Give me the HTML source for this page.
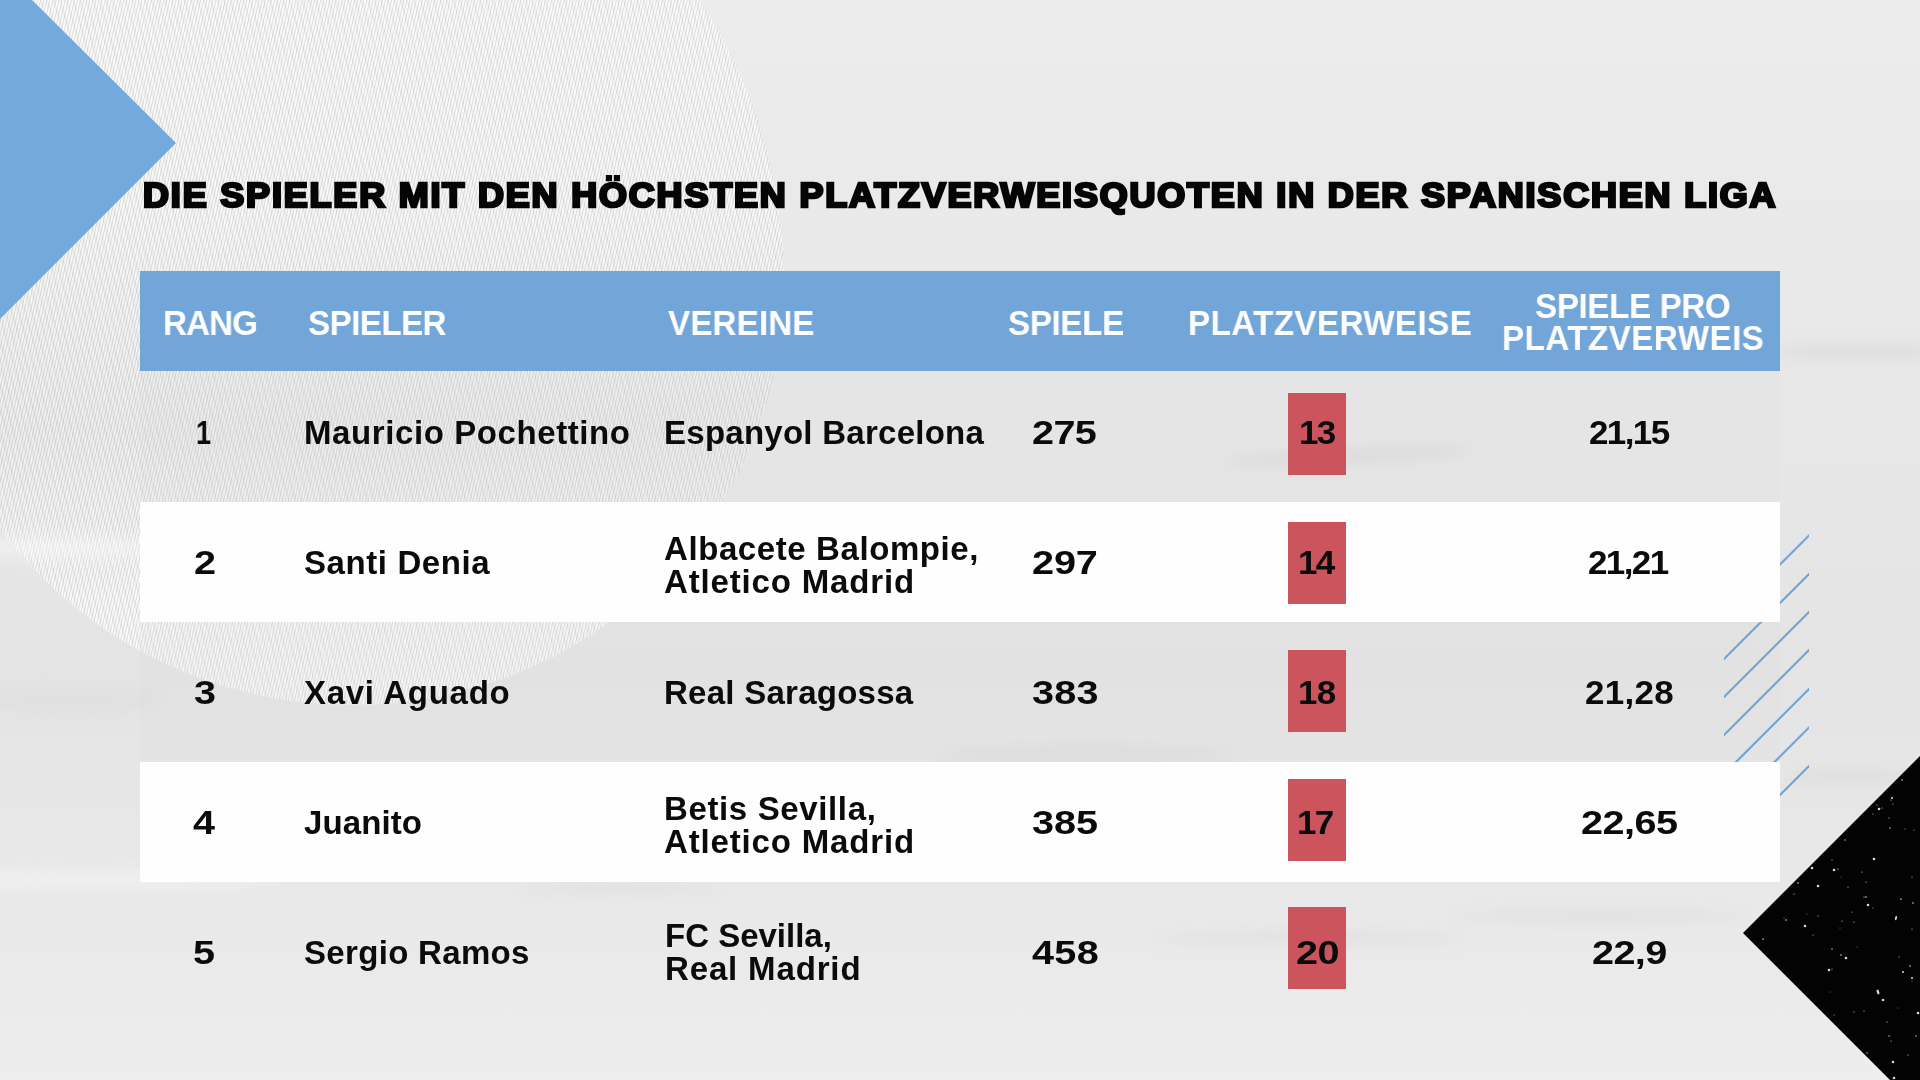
<!DOCTYPE html>
<html lang="de">
<head>
<meta charset="utf-8">
<title>Die Spieler mit den höchsten Platzverweisquoten in der spanischen Liga</title>
<style>
  html, body { margin: 0; padding: 0; }
  body {
    width: 1920px; height: 1080px; overflow: hidden; position: relative;
    background: #e9e9e9;
    font-family: "Liberation Sans", sans-serif;
    color: #0a0a0a;
  }
  #bg { position: absolute; left: 0; top: 0; width: 1920px; height: 1080px; display: block; }

  /* every text label is absolutely placed; transforms keep the left edge fixed */
  .t { position: absolute; white-space: nowrap; transform-origin: 0 50%; will-change: transform; }

  #title {
    height: 44px; line-height: 44px;
    font-size: 34.8px; font-weight: 700; letter-spacing: 1.8px;
    color: #050505;
    -webkit-text-stroke: 2.7px #050505;
    paint-order: stroke fill;
  }

  #thead { position: absolute; left: 140px; top: 271px; width: 1640px; height: 100px; background: #72a6d9; }
  .th { color: #fdfdfd; font-size: 35px; font-weight: 700; line-height: 34px; height: 34px; }

  .rowbg { position: absolute; left: 140px; width: 1640px; height: 120px; background: #fefefe; }
  .card  { position: absolute; left: 1288px; width: 58px; height: 82px; background: #cb545d; }

  .td { font-size: 33px; font-weight: 700; line-height: 33px; height: 33px; color: #0b0b0b; }
</style>
</head>
<body>

<!-- decorative background -->
<svg id="bg" width="1920" height="1080" viewBox="0 0 1920 1080">
  <defs>
    <linearGradient id="paper" x1="0" y1="0" x2="0" y2="1">
      <stop offset="0" stop-color="#ececec"/>
      <stop offset="0.35" stop-color="#e8e8e8"/>
      <stop offset="0.62" stop-color="#e4e4e4"/>
      <stop offset="0.85" stop-color="#e9e9e9"/>
      <stop offset="1" stop-color="#ededed"/>
    </linearGradient>
    <!-- fine "/" threads + coarser "\" wales of the woven cloth -->
    <pattern id="thread" width="3" height="12" patternUnits="userSpaceOnUse" patternTransform="rotate(13)">
      <rect x="0" y="0" width="1.05" height="12" fill="#000" fill-opacity="0.125"/>
    </pattern>
    <pattern id="wale" width="6.3" height="12" patternUnits="userSpaceOnUse" patternTransform="rotate(-16)">
      <rect x="0" y="0" width="2.2" height="12" fill="#000" fill-opacity="0.035"/>
    </pattern>
    <linearGradient id="cloth" x1="0" y1="0" x2="0" y2="720" gradientUnits="userSpaceOnUse">
      <stop offset="0" stop-color="#fcfcfc"/>
      <stop offset="0.30" stop-color="#fafafa"/>
      <stop offset="0.60" stop-color="#f1f1f1"/>
      <stop offset="0.84" stop-color="#fbfbfb"/>
      <stop offset="1" stop-color="#fcfcfc"/>
    </linearGradient>
    <clipPath id="disc">
      <path d="M -80 285 A 432 480 0 0 1 784 285 A 432 420 0 0 1 -80 285 Z"/>
    </clipPath>
    <clipPath id="hatchbox"><rect x="1724" y="520" width="85" height="281"/></clipPath>
    <filter id="soft" x="-20%" y="-200%" width="140%" height="500%">
      <feGaussianBlur stdDeviation="7"/>
    </filter>
  </defs>

  <rect width="1920" height="1080" fill="url(#paper)"/>

  <!-- woven fabric disc -->
  <g clip-path="url(#disc)">
    <rect x="0" y="0" width="800" height="720" fill="url(#cloth)"/>
    <rect x="0" y="0" width="800" height="720" fill="url(#wale)"/>
    <rect x="0" y="0" width="800" height="720" fill="url(#thread)"/>
  </g>

  <!-- paper wrinkles -->
  <g filter="url(#soft)" opacity="0.6">
    <ellipse cx="1350" cy="456" rx="125" ry="4" fill="#c9c9c9" transform="rotate(-3 1350 456)"/>
    <ellipse cx="1860" cy="352" rx="90" ry="6" fill="#d2d2d2"/>
    <ellipse cx="1085" cy="754" rx="150" ry="4" fill="#cdcdcd"/>
    <ellipse cx="1850" cy="777" rx="70" ry="4" fill="#d0d0d0"/>
    <ellipse cx="1310" cy="938" rx="160" ry="4" fill="#d3d3d3"/>
    <ellipse cx="1600" cy="916" rx="150" ry="4" fill="#d6d6d6"/>
    <ellipse cx="620" cy="888" rx="100" ry="3" fill="#d2d2d2"/>
    <ellipse cx="60" cy="548" rx="120" ry="9" fill="#f8f8f8"/>
    <ellipse cx="90" cy="880" rx="190" ry="10" fill="#f4f4f4"/>
    <ellipse cx="70" cy="700" rx="90" ry="14" fill="#dedede"/>
  </g>

  <!-- barely visible veil behind the odd rows -->
  <g fill="#dcdcdc" fill-opacity="0.16">
    <rect x="140" y="371" width="1640" height="131"/>
    <rect x="140" y="622" width="1640" height="140"/>
  </g>

  <!-- blue corner triangle -->
  <polygon points="0,0 32,0 176,143 0,319" fill="#74a9db"/>

  <!-- hatch lines (sit behind the white rows) -->
  <g clip-path="url(#hatchbox)" stroke="#6ea4d8" stroke-width="2.2" fill="none">
    <line x1="1819" y1="525.5" x2="1714" y2="630.5"/>
    <line x1="1819" y1="564" x2="1714" y2="669"/>
    <line x1="1819" y1="602" x2="1714" y2="707"/>
    <line x1="1819" y1="640" x2="1714" y2="745"/>
    <line x1="1819" y1="679" x2="1714" y2="784"/>
    <line x1="1819" y1="717.5" x2="1714" y2="822.5"/>
    <line x1="1819" y1="756" x2="1714" y2="861"/>
  </g>

  <!-- black corner triangle -->
  <polygon points="1743,933 1920,756 1920,1080 1890,1080" fill="#030303"/>
  <g fill="#d8d8d8">
    <circle cx="1841" cy="877" r="0.45"/><circle cx="1905" cy="829" r="0.5"/><circle cx="1891" cy="800" r="0.6"/><circle cx="1857" cy="947" r="0.45"/><circle cx="1848" cy="887" r="0.6"/>
    <circle cx="1889" cy="818" r="0.6"/><circle cx="1813" cy="935" r="0.5"/><circle cx="1846" cy="958" r="1.3"/><circle cx="1866" cy="897" r="0.8"/><circle cx="1834" cy="870" r="1.3"/>
    <circle cx="1879" cy="809" r="1.3"/><circle cx="1763" cy="939" r="0.8"/><circle cx="1834" cy="1015" r="0.5"/><circle cx="1893" cy="1062" r="1.3"/><circle cx="1874" cy="859" r="1.3"/>
    <circle cx="1798" cy="883" r="0.8"/><circle cx="1889" cy="1036" r="0.7"/><circle cx="1866" cy="882" r="0.6"/><circle cx="1832" cy="949" r="0.7"/><circle cx="1841" cy="955" r="0.8"/>
    <circle cx="1912" cy="981" r="0.45"/><circle cx="1912" cy="978" r="1.0"/><circle cx="1818" cy="886" r="1.3"/><circle cx="1899" cy="957" r="0.55"/><circle cx="1852" cy="912" r="0.5"/>
    <circle cx="1894" cy="1078" r="1.3"/><circle cx="1832" cy="860" r="0.55"/><circle cx="1912" cy="929" r="0.55"/><circle cx="1867" cy="1053" r="0.7"/><circle cx="1916" cy="1036" r="0.7"/>
    <circle cx="1842" cy="921" r="0.6"/><circle cx="1854" cy="1012" r="0.6"/><circle cx="1887" cy="1022" r="0.6"/><circle cx="1784" cy="918" r="0.45"/><circle cx="1918" cy="1013" r="1.3"/>
    <circle cx="1913" cy="903" r="0.8"/><circle cx="1912" cy="877" r="0.6"/><circle cx="1807" cy="914" r="0.45"/><circle cx="1832" cy="969" r="0.5"/><circle cx="1892" cy="798" r="1.0"/>
    <circle cx="1883" cy="1000" r="1.3"/><circle cx="1901" cy="899" r="0.8"/><circle cx="1873" cy="908" r="0.5"/><circle cx="1873" cy="814" r="0.55"/><circle cx="1829" cy="970" r="1.3"/>
    <circle cx="1862" cy="872" r="0.55"/><circle cx="1877" cy="805" r="0.6"/><circle cx="1890" cy="828" r="0.7"/><circle cx="1786" cy="920" r="0.8"/><circle cx="1794" cy="894" r="0.55"/>
    <circle cx="1903" cy="972" r="1.0"/><circle cx="1891" cy="1041" r="0.55"/><circle cx="1840" cy="928" r="0.45"/><circle cx="1898" cy="1008" r="0.45"/><circle cx="1882" cy="808" r="0.55"/>
    <circle cx="1830" cy="992" r="0.45"/><circle cx="1805" cy="926" r="1.3"/><circle cx="1845" cy="840" r="0.7"/><circle cx="1902" cy="780" r="0.8"/><circle cx="1854" cy="922" r="0.6"/>
    <circle cx="1868" cy="905" r="1.3"/><circle cx="1908" cy="1055" r="0.6"/><circle cx="1893" cy="804" r="0.5"/><circle cx="1864" cy="897" r="0.6"/><circle cx="1864" cy="1011" r="0.55"/>
    <circle cx="1910" cy="966" r="0.8"/><circle cx="1914" cy="830" r="0.5"/><circle cx="1818" cy="916" r="0.6"/><circle cx="1838" cy="869" r="0.6"/><circle cx="1812" cy="868" r="1.3"/>
    <ellipse cx="1878" cy="992" rx="1.2" ry="2.6" transform="rotate(-20 1878 992)"/><ellipse cx="1896" cy="918" rx="1" ry="2.2" transform="rotate(15 1896 918)"/>
  </g>

</svg>

<!-- white zebra rows -->
<div class="rowbg" style="top:502px"></div>
<div class="rowbg" style="top:762px"></div>

<!-- title -->
<div id="title" class="t" style="left:143.0px; top:173px; transform:scaleX(1.032);">DIE SPIELER MIT DEN HÖCHSTEN PLATZVERWEISQUOTEN IN DER SPANISCHEN LIGA</div>

<!-- table header -->
<div id="thead"></div>
<div class="t th" style="left:163.3px; top:306px; letter-spacing:-0.99px; transform:scaleX(0.950);">RANG</div>
<div class="t th" style="left:307.5px; top:306px; letter-spacing:-0.65px; transform:scaleX(0.950);">SPIELER</div>
<div class="t th" style="left:667.5px; top:306px; letter-spacing:0.09px; transform:scaleX(0.950);">VEREINE</div>
<div class="t th" style="left:1008.1px; top:306px; letter-spacing:-0.43px; transform:scaleX(0.950);">SPIELE</div>
<div class="t th" style="left:1188.1px; top:306px; letter-spacing:0.37px; transform:scaleX(0.950);">PLATZVERWEISE</div>
<div class="t th" style="left:1535.1px; top:289px; letter-spacing:-0.44px; transform:scaleX(0.950);">SPIELE PRO</div>
<div class="t th" style="left:1502.3px; top:321px; letter-spacing:0.43px; transform:scaleX(0.950);">PLATZVERWEIS</div>

<!-- red cards -->
<div class="card" style="top:393px"></div>
<div class="card" style="top:522px"></div>
<div class="card" style="top:650px"></div>
<div class="card" style="top:779px"></div>
<div class="card" style="top:907px"></div>

<!-- row 1 -->
<div class="t td" style="left:195.6px; top:416px; transform:scaleX(0.819);">1</div>
<div class="t td" style="left:304.0px; top:416px; letter-spacing:0.59px;">Mauricio Pochettino</div>
<div class="t td" style="left:664.0px; top:416px; letter-spacing:0.26px;">Espanyol Barcelona</div>
<div class="t td" style="left:1031.9px; top:416px; letter-spacing:-0.50px; transform:scaleX(1.200);">275</div>
<div class="t td" style="left:1298.6px; top:416px; letter-spacing:-1.50px; transform:scaleX(1.060);">13</div>
<div class="t td" style="left:1588.5px; top:416px; letter-spacing:-1.50px; transform:scaleX(1.060);">21,15</div>

<!-- row 2 -->
<div class="t td" style="left:193.7px; top:546px; transform:scaleX(1.200);">2</div>
<div class="t td" style="left:304.0px; top:546px; letter-spacing:0.59px;">Santi Denia</div>
<div class="t td" style="left:664.0px; top:532px; letter-spacing:0.59px;">Albacete Balompie,</div>
<div class="t td" style="left:664.0px; top:565px; letter-spacing:0.84px;">Atletico Madrid</div>
<div class="t td" style="left:1031.9px; top:546px; letter-spacing:-0.11px; transform:scaleX(1.200);">297</div>
<div class="t td" style="left:1297.7px; top:546px; letter-spacing:-1.50px; transform:scaleX(1.060);">14</div>
<div class="t td" style="left:1588.0px; top:546px; letter-spacing:-1.50px; transform:scaleX(1.060);">21,21</div>

<!-- row 3 -->
<div class="t td" style="left:194.1px; top:676px; transform:scaleX(1.200);">3</div>
<div class="t td" style="left:304.1px; top:676px; letter-spacing:0.70px;">Xavi Aguado</div>
<div class="t td" style="left:664.0px; top:676px; letter-spacing:0.26px;">Real Saragossa</div>
<div class="t td" style="left:1032.3px; top:676px; letter-spacing:0.22px; transform:scaleX(1.200);">383</div>
<div class="t td" style="left:1297.6px; top:676px; letter-spacing:-0.70px; transform:scaleX(1.060);">18</div>
<div class="t td" style="left:1584.6px; top:676px; letter-spacing:0.28px; transform:scaleX(1.060);">21,28</div>

<!-- row 4 -->
<div class="t td" style="left:192.8px; top:806px; transform:scaleX(1.200);">4</div>
<div class="t td" style="left:304.1px; top:806px; letter-spacing:0.11px;">Juanito</div>
<div class="t td" style="left:663.8px; top:792px; letter-spacing:0.63px;">Betis Sevilla,</div>
<div class="t td" style="left:664.0px; top:825px; letter-spacing:0.84px;">Atletico Madrid</div>
<div class="t td" style="left:1032.0px; top:806px; transform:scaleX(1.200);">385</div>
<div class="t td" style="left:1297.1px; top:806px; letter-spacing:-1.50px; transform:scaleX(1.060);">17</div>
<div class="t td" style="left:1580.9px; top:806px; letter-spacing:-0.44px; transform:scaleX(1.200);">22,65</div>

<!-- row 5 -->
<div class="t td" style="left:193.2px; top:936px; transform:scaleX(1.200);">5</div>
<div class="t td" style="left:304.0px; top:936px; letter-spacing:0.32px;">Sergio Ramos</div>
<div class="t td" style="left:665.2px; top:919px; letter-spacing:-0.01px;">FC Sevilla,</div>
<div class="t td" style="left:665.2px; top:952px; letter-spacing:0.85px;">Real Madrid</div>
<div class="t td" style="left:1031.5px; top:936px; letter-spacing:0.27px; transform:scaleX(1.200);">458</div>
<div class="t td" style="left:1295.8px; top:936px; letter-spacing:-0.50px; transform:scaleX(1.200);">20</div>
<div class="t td" style="left:1591.9px; top:936px; letter-spacing:-0.50px; transform:scaleX(1.200);">22,9</div>

</body>
</html>
